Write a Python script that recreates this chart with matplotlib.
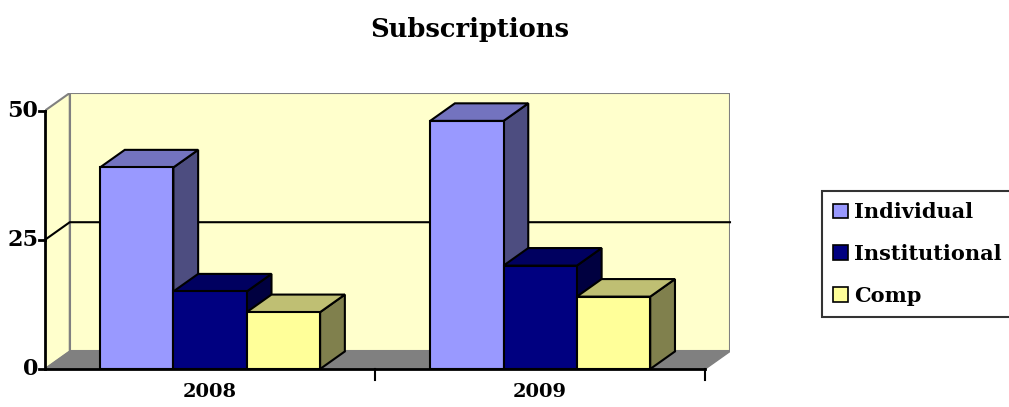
import matplotlib.pyplot as plt
from matplotlib.patches import Polygon, Patch

# Data
years = ['2008', '2009']
series = ['Individual', 'Institutional', 'Comp']
individual = [39, 48]
institutional = [15, 20]
comp = [11, 14]
values = [individual, institutional, comp]

# colours: front, top, side
front_cols = ['#9999FF', '#000080', '#FFFF99']
top_cols = ['#7373BF', '#000060', '#BFBF73']
side_cols = ['#4D4D80', '#000040', '#80804D']

W, H = 1009, 407
fig = plt.figure(figsize=(W / 100, H / 100), dpi=100)
plt.rcParams['font.family'] = ['DejaVu Serif']

# axes placed in pixels: front left at x=45, back right at 730, y=0 at 369, back top at 93
ax = fig.add_axes([45 / W, (H - 369) / H, (730 - 45) / W, (369 - 93) / H])
ymax = 50
DX = 0.075   # depth offset in category units
DY = 3.4     # depth offset in value units
ncat = len(years)
ax.set_xlim(0, ncat + DX)
ax.set_ylim(0, ymax + DY)
ax.axis('off')

# walls and floor
ax.add_patch(Polygon([(DX, DY), (ncat + DX, DY), (ncat + DX, ymax + DY), (DX, ymax + DY)],
                     closed=True, facecolor='#FFFFCC', edgecolor='#808080', lw=1.5, zorder=1))
ax.add_patch(Polygon([(0, 0), (DX, DY), (DX, ymax + DY), (0, ymax)],
                     closed=True, facecolor='#FFFFCC', edgecolor='#808080', lw=1.5, zorder=1))
ax.add_patch(Polygon([(0, 0), (ncat, 0), (ncat + DX, DY), (DX, DY)],
                     closed=True, facecolor='#808080', edgecolor='#808080', lw=1, zorder=1))

# gridline at 25
ax.plot([0, DX, ncat + DX], [25, 25 + DY, 25 + DY], color='black', lw=1.5, zorder=2,
        clip_on=False)

# bars
w = 1 / (len(series) + 1.5)
for i in range(ncat):
    for j, vals in enumerate(values):
        x = i + 0.75 * w + j * w
        v = vals[i]
        z = 3 + j * 3 + i * 10
        ax.bar(x, v, width=w, align='edge', color=front_cols[j], edgecolor='black',
               lw=1.5, zorder=z + 2)
        ax.add_patch(Polygon([(x, v), (x + w, v), (x + w + DX, v + DY), (x + DX, v + DY)],
                             closed=True, facecolor=top_cols[j], edgecolor='black', lw=1.5,
                             zorder=z + 1))
        ax.add_patch(Polygon([(x + w, 0), (x + w + DX, DY), (x + w + DX, v + DY), (x + w, v)],
                             closed=True, facecolor=side_cols[j], edgecolor='black', lw=1.5,
                             zorder=z))

# front axes
ax.plot([0, 0], [0, ymax], color='black', lw=2, zorder=40, clip_on=False)
ax.plot([0, ncat], [0, 0], color='black', lw=2, zorder=40, clip_on=False)
tx = 0.018
for t in [0, 25, 50]:
    ax.plot([-tx, 0], [t, t], color='black', lw=2, clip_on=False, zorder=40)
    ax.text(-tx - 0.002, t, str(t), ha='right', va='center', fontsize=16,
            fontweight='bold', zorder=40)
for k in range(1, ncat + 1):
    ax.plot([k, k], [0, -2.2], color='black', lw=1.5, clip_on=False, zorder=40)
for i, yr in enumerate(years):
    ax.text(i + 0.5, -2.8, yr, ha='center', va='top', fontsize=14, fontweight='bold')

fig.text(470 / W, 1 - 30 / H, 'Subscriptions', ha='center', va='center', fontsize=18.5,
         fontweight='bold')

handles = [Patch(facecolor=c, edgecolor='black', lw=1.2) for c in front_cols]
leg = fig.legend(handles, series, loc='center left', bbox_to_anchor=(822 / W, 1 - 254 / H),
                 frameon=True, fancybox=False, shadow=False,
                 prop={'weight': 'bold', 'size': 15}, handlelength=0.7, handleheight=0.7,
                 handletextpad=0.3, borderpad=0.55, labelspacing=1.05, borderaxespad=0)
leg.get_frame().set_edgecolor('black')
leg.get_frame().set_linewidth(1.5)

fig.savefig('out.png', dpi=100)
